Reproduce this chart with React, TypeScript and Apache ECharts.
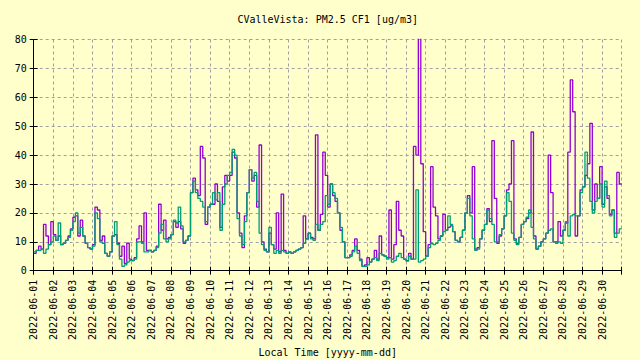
import { useEffect, useRef } from 'react';
import * as echarts from 'echarts';

// Tick labels for the x axis (one per day, June 2022)
const dayLabels = [
  '2022-06-01', '2022-06-02', '2022-06-03', '2022-06-04', '2022-06-05',
  '2022-06-06', '2022-06-07', '2022-06-08', '2022-06-09', '2022-06-10',
  '2022-06-11', '2022-06-12', '2022-06-13', '2022-06-14', '2022-06-15',
  '2022-06-16', '2022-06-17', '2022-06-18', '2022-06-19', '2022-06-20',
  '2022-06-21', '2022-06-22', '2022-06-23', '2022-06-24', '2022-06-25',
  '2022-06-26', '2022-06-27', '2022-06-28', '2022-06-29', '2022-06-30',
];

// Readings every 3 hours (8 per day), channel A (purple)
const channelA = [
  [6, 7, 8.5, 7.5, 16, 12, 9, 17],
  [12.5, 10.5, 12, 9, 9.5, 10.5, 12, 14.5],
  [18.5, 19, 12, 17.5, 12, 9.5, 8, 7.5],
  [9, 22, 21, 10.5, 12, 6, 5, 6.5],
  [12, 12.5, 9.5, 5, 8.5, 2.5, 9.5, 4],
  [3.5, 4.5, 11, 15.5, 10, 20, 7, 7],
  [6.5, 7, 8.5, 23, 14, 17.5, 11, 11.5],
  [12.5, 17, 15, 17, 14.5, 9.5, 10.5, 12],
  [27, 32, 28, 26, 43, 39, 16, 22],
  [23, 23, 30, 24, 15, 29, 33, 31],
  [33, 41, 39, 20, 13, 8, 19, 27],
  [35, 31, 33, 22, 43.5, 10, 7.5, 6.5],
  [13, 9, 7.5, 20, 6.5, 26.5, 7, 6],
  [6.5, 6, 6.5, 7, 7.5, 8, 19, 11],
  [13, 11.5, 11, 47, 14, 19.5, 41, 33],
  [22, 30, 26, 24, 20, 14, 10, 4.5],
  [4.5, 5.5, 7, 11, 7, 4, 1.5, 2],
  [4.5, 3, 4, 7, 4, 12, 5.5, 5],
  [4.5, 21, 4, 9, 24, 14, 12, 4],
  [3.5, 6, 4, 43, 40, 95, 37, 13.5],
  [5, 9, 36, 22, 19, 11, 12, 19.5],
  [14, 15, 15.5, 13.5, 10.5, 10, 11.5, 14],
  [20, 26, 20, 36, 7.5, 8, 11, 14],
  [16, 21.5, 17, 45, 25, 9.5, 12, 14.5],
  [19, 28, 30, 45, 11, 9.5, 11.5, 16],
  [17, 18, 20, 48, 12, 7.5, 8.5, 10],
  [11, 13, 40, 27, 10, 10, 17, 12],
  [14, 16.5, 41, 66, 55, 12, 19, 28],
  [29, 33, 37, 51, 21, 30, 25, 36],
  [23, 29, 25, 19.5, 21, 13, 34, 30],
];

// Readings every 3 hours (8 per day), channel B (green)
const channelB = [
  [6.5, 7, 7, 7.5, 6, 7.5, 9, 10],
  [12, 10.5, 16.5, 9, 9.5, 10.5, 11.5, 14],
  [17, 20, 13, 15, 12, 9.5, 8, 7.5],
  [8.5, 20, 18, 10, 9.5, 6, 5, 6.5],
  [12, 17, 9, 4, 1.5, 2, 3, 3.5],
  [3.5, 4, 10, 10, 9.5, 6.5, 6.5, 7],
  [6.5, 7, 8, 13, 16, 11, 10, 11],
  [12.5, 17.5, 16.5, 22, 15.5, 10, 10.5, 12],
  [27, 31, 27, 25, 24, 22, 17, 22],
  [23, 27, 24.5, 27, 14, 23, 30, 33],
  [34, 42, 40, 18, 12, 9, 17, 27],
  [35, 32, 34, 24, 13, 9, 7, 6.5],
  [15, 9, 6, 7, 6, 7, 6.5, 6],
  [6.5, 6, 6.5, 7, 7.5, 8, 9.5, 11],
  [13, 11, 10.5, 16, 14, 16, 17, 26],
  [23, 30, 27, 25, 20, 15, 10, 4.5],
  [4.5, 5, 6.5, 8.5, 6, 3.5, 1.5, 1.5],
  [2, 3, 4, 4.5, 3.5, 6, 5.5, 5],
  [4, 4.5, 3, 3.5, 5, 6, 4.5, 4],
  [3.3, 5, 4, 4, 28, 3, 3.5, 4],
  [5, 8, 9.5, 9, 9.5, 10.5, 12, 13.5],
  [14, 19, 16, 13.5, 10.5, 10, 11.5, 14],
  [20, 25, 19, 11, 7, 7.5, 11, 14],
  [16, 21, 18, 16, 10, 10, 12.5, 14.5],
  [19, 27, 24, 13, 10.5, 9, 11.5, 16],
  [17, 18.5, 21, 15, 11, 7.5, 8.5, 10],
  [11, 13, 14, 14.5, 10, 9.5, 10, 9.5],
  [14, 17, 12, 19, 19.5, 19, 19, 27],
  [29, 41, 32, 24, 20, 24, 25, 30],
  [22, 31, 26, 19, 21, 11.5, 13, 14.5],
];

const yMin = 0;
const yMax = 80;
const yStep = 10;

const titleText = 'CValleVista: PM2.5 CF1 [ug/m3]';
const xAxisTitle = 'Local Time [yyyy-mm-dd]';

const FONT = "'DejaVu Sans Mono', 'Liberation Mono', monospace";

function toSeries(rows: number[][]): [number, number][] {
  const pts: [number, number][] = [];
  rows.forEach((row, d) => {
    row.forEach((v, s) => pts.push([d + s / row.length, v]));
  });
  const last = rows[rows.length - 1];
  pts.push([rows.length, last[last.length - 1]]);
  return pts;
}

export default function App() {
  const ref = useRef<HTMLDivElement>(null);

  useEffect(() => {
    if (!ref.current) return;
    const chart = echarts.init(ref.current, undefined, { renderer: 'svg' });

    const gridLeft = 33.7;
    const gridRight = 18.3;
    const gridTop = 39.5;
    const gridBottom = 89.3;
    const plotCenter = gridLeft + (640 - gridLeft - gridRight) / 2;

    const frameLine = { show: true, lineStyle: { color: '#000000', width: 1 } };
    const innerTick = { show: true, inside: true, length: 4, lineStyle: { color: '#000000', width: 1 } };
    const dashed = { show: true, lineStyle: { color: '#a0a0a0', width: 1, type: [3, 3] as any } };

    chart.setOption({
      animation: false,
      backgroundColor: '#ffffcc',
      textStyle: { fontFamily: FONT },
      grid: {
        left: gridLeft,
        right: gridRight,
        top: gridTop,
        bottom: gridBottom,
        containLabel: false,
        outerBoundsMode: 'none',
      },
      xAxis: [
        {
          type: 'value',
          min: 0,
          max: dayLabels.length,
          interval: 1,
          position: 'bottom',
          axisLine: frameLine,
          axisTick: innerTick,
          axisLabel: {
            rotate: 90,
            margin: 9,
            color: '#000000',
            fontSize: 10,
            fontFamily: FONT,
            formatter: (v: number) => dayLabels[Math.round(v)] ?? '',
          },
          splitLine: dashed,
        },
        {
          type: 'value',
          min: 0,
          max: dayLabels.length,
          interval: 1,
          position: 'top',
          axisLine: frameLine,
          axisTick: innerTick,
          axisLabel: { show: false },
          splitLine: { show: false },
        },
      ],
      yAxis: [
        {
          type: 'value',
          min: yMin,
          max: yMax,
          interval: yStep,
          position: 'left',
          axisLine: frameLine,
          axisTick: innerTick,
          axisLabel: { margin: 7, color: '#000000', fontSize: 10, fontFamily: FONT },
          splitLine: dashed,
        },
        {
          type: 'value',
          min: yMin,
          max: yMax,
          interval: yStep,
          position: 'right',
          axisLine: frameLine,
          axisTick: innerTick,
          axisLabel: { show: false },
          splitLine: { show: false },
        },
      ],
      series: [
        {
          name: 'A',
          type: 'line',
          step: 'end',
          data: toSeries(channelA),
          showSymbol: false,
          clip: true,
          lineStyle: { color: '#9400d3', width: 1.3 },
          itemStyle: { color: '#9400d3' },
          xAxisIndex: 0,
          yAxisIndex: 0,
          z: 2,
        },
        {
          name: 'B',
          type: 'line',
          step: 'end',
          data: toSeries(channelB),
          showSymbol: false,
          clip: true,
          lineStyle: { color: '#009e73', width: 1.3 },
          itemStyle: { color: '#009e73' },
          xAxisIndex: 0,
          yAxisIndex: 0,
          z: 3,
        },
      ],
      graphic: [
        {
          type: 'text',
          x: plotCenter,
          y: 19,
          style: {
            text: titleText,
            font: `10px ${FONT}`,
            fill: '#000000',
            textAlign: 'center',
            textVerticalAlign: 'middle',
          },
        },
        {
          type: 'text',
          x: plotCenter,
          y: 352,
          style: {
            text: xAxisTitle,
            font: `10px ${FONT}`,
            fill: '#000000',
            textAlign: 'center',
            textVerticalAlign: 'middle',
          },
        },
      ],
    });

    return () => chart.dispose();
  }, []);

  return (
    <div
      ref={ref}
      style={{ position: 'fixed', left: 0, top: 0, width: 640, height: 360 }}
    />
  );
}
